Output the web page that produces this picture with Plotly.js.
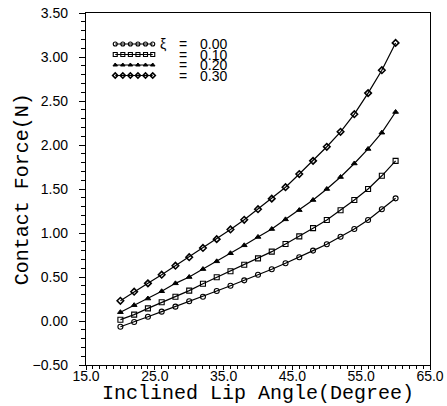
<!DOCTYPE html>
<html>
<head>
<meta charset="utf-8">
<script src="https://cdn.plot.ly/plotly-3.0.1.min.js"></script>
<style>html,body{margin:0;padding:0;background:#fff;}#chart{width:447px;height:406px;}</style>
</head>
<body>
<div id="chart"></div>
<script>
const angles = [20,22,24,26,28,30,32,34,36,38,40,42,44,46,48,50,52,54,56,58,60];
const xi000 = [-0.065,-0.011,0.049,0.106,0.163,0.224,0.276,0.341,0.401,0.462,0.526,0.588,0.656,0.724,0.800,0.872,0.958,1.045,1.148,1.270,1.394];
const xi010 = [0.015,0.072,0.144,0.213,0.276,0.345,0.424,0.497,0.565,0.640,0.712,0.788,0.875,0.962,1.055,1.148,1.258,1.375,1.500,1.650,1.820];
const xi020 = [0.100,0.180,0.255,0.338,0.428,0.500,0.590,0.678,0.770,0.860,0.955,1.045,1.155,1.260,1.375,1.500,1.636,1.790,1.955,2.140,2.375];
const xi030 = [0.230,0.333,0.428,0.526,0.628,0.725,0.830,0.930,1.040,1.150,1.270,1.390,1.520,1.670,1.820,1.980,2.150,2.350,2.590,2.850,3.160];
const legendValues = ["0.00", "0.10", "0.20", "0.30"];
const xTickVals = [15,25,35,45,55,65];
const yTickVals = [-0.5,0,0.5,1,1.5,2,2.5,3,3.5];
const xTitle = "Inclined Lip Angle(Degree)";
const yTitle = "Contact Force(N)";

const series = [xi000, xi010, xi020, xi030];
const symbols = ["circle-open","square-open","triangle-up","diamond-open"];
const sizes = [5,5,5,5];
const lineW = [1.1,1.1,1,1.6];

const traces = [];
series.forEach((ys, i) => {
  traces.push({
    x: angles, y: ys, type: "scatter", mode: "lines+markers",
    line: {color: "#000", width: 1.2},
    marker: {symbol: symbols[i], size: sizes[i], color: "#000", line: {color: "#000", width: lineW[i]}},
    showlegend: false, hoverinfo: "skip"
  });
});

// legend samples drawn on a hidden unit axis pair
const legX = [0.085, 0.107, 0.129, 0.151, 0.173, 0.194];
const legY = [0.9119, 0.8821, 0.8523, 0.8224];
const legFont = {family: "Liberation Sans, Arial, sans-serif", size: 14, color: "#000"};
const annotations = [];
legY.forEach((yy, i) => {
  traces.push({
    x: legX, y: legX.map(() => yy), xaxis: "x2", yaxis: "y2",
    type: "scatter", mode: "lines+markers",
    line: {color: "#000", width: 1.1},
    marker: {symbol: symbols[i], size: 4, color: "#000", line: {color: "#000", width: lineW[i]}},
    showlegend: false, hoverinfo: "skip"
  });
  if (i === 0) {
    annotations.push({xref: "x2", yref: "y2", x: 0.224, y: yy, xanchor: "center", yanchor: "middle",
      showarrow: false, text: "\u03BE", font: legFont});
  }
  annotations.push({xref: "x2", yref: "y2", x: 0.281, y: yy, xanchor: "center", yanchor: "middle",
    showarrow: false, text: "=", font: legFont});
  annotations.push({xref: "x2", yref: "y2", x: 0.325, y: yy, xanchor: "left", yanchor: "middle",
    showarrow: false, text: legendValues[i], font: legFont});
});

const titleFont = {family: "Liberation Mono, Courier New, monospace", size: 20, color: "#000"};
annotations.push({xref: "paper", yref: "paper", x: 0.5, y: -0.08, xanchor: "center", yanchor: "middle",
  showarrow: false, text: xTitle, font: titleFont});
annotations.push({xref: "paper", yref: "paper", x: -0.185, y: 0.5, xanchor: "center", yanchor: "middle",
  showarrow: false, text: yTitle, font: titleFont, textangle: -90});

const tickFont = {family: "Liberation Sans, Arial, sans-serif", size: 14, color: "#000"};

const layout = {
  width: 447, height: 406,
  margin: {l: 86, r: 17, t: 13, b: 41},
  paper_bgcolor: "#fff", plot_bgcolor: "#fff",
  showlegend: false,
  xaxis: {
    range: [15, 65], tickvals: xTickVals, tickformat: ".1f", automargin: false,
    ticks: "outside", ticklen: 4, tickwidth: 1, tickcolor: "#000", ticklabelstandoff: -6,
    minor: {dtick: 1, ticks: "outside", ticklen: 3, tickcolor: "#000", showgrid: false},
    showline: true, linecolor: "#000", linewidth: 1.2, mirror: true,
    showgrid: false, zeroline: false, tickfont: tickFont
  },
  yaxis: {
    range: [-0.5, 3.5], tickvals: yTickVals, tickformat: ".2f", automargin: false,
    ticks: "outside", ticklen: 6, tickwidth: 1, tickcolor: "#000", ticklabelstandoff: 8,
    minor: {dtick: 0.1, ticks: "outside", ticklen: 4, tickcolor: "#000", showgrid: false},
    showline: true, linecolor: "#000", linewidth: 1.2, mirror: true,
    showgrid: false, zeroline: false, tickfont: tickFont
  },
  xaxis2: {overlaying: "x", range: [0, 1], visible: false, fixedrange: true},
  yaxis2: {overlaying: "y", range: [0, 1], visible: false, fixedrange: true},
  annotations: annotations
};

Plotly.newPlot("chart", traces, layout, {staticPlot: true, displayModeBar: false});
</script>
</body>
</html>
